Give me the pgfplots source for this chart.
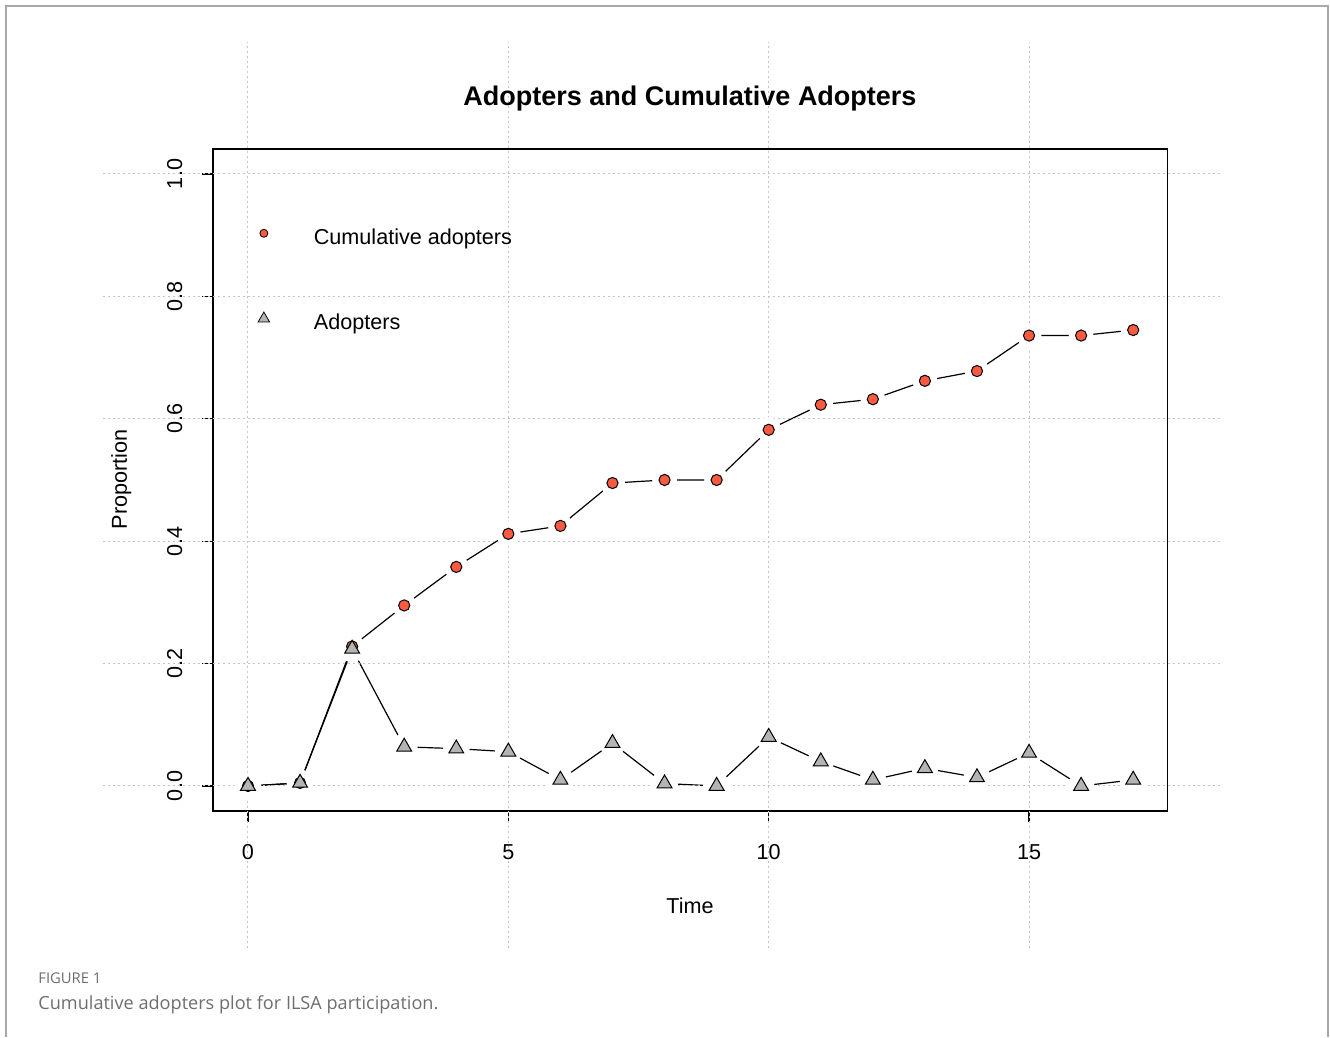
\documentclass[border=0pt]{standalone}
\usepackage{pgfplots}
\usepackage{pgfplotstable}
\pgfplotsset{compat=1.18}
\usepackage{fontspec}
\setmainfont{Liberation Sans}
\newfontfamily\capfont{Open Sans}
\definecolor{tomatoc}{HTML}{FA5B40}
\definecolor{trigray}{HTML}{B4B4B4}
\definecolor{gridc}{HTML}{C4C4C4}
\definecolor{framec}{HTML}{A8A8A8}
\definecolor{capc}{HTML}{6E6E6E}

\pgfplotstableread{
t cum
0 0.000
1 0.005
2 0.228
3 0.295
4 0.358
5 0.412
6 0.425
7 0.495
8 0.500
9 0.500
10 0.582
11 0.623
12 0.632
13 0.662
14 0.678
15 0.736
16 0.736
17 0.745
}\cumtable

\pgfplotstableread{
t adopt
0 0.000
1 0.005
2 0.224
3 0.064
4 0.061
5 0.056
6 0.010
7 0.070
8 0.004
9 0.000
10 0.080
11 0.040
12 0.010
13 0.029
14 0.014
15 0.054
16 0.000
17 0.010
}\adopttable

\pgfplotsset{
  mylegimg/.style={legend image code/.code={\path[draw=none,fill=none] (-4pt,-6pt) rectangle (21.5pt,7pt); \draw[##1] plot coordinates {(-1.5pt,2.5pt)};}}
}

\begin{document}
\begin{tikzpicture}
\fill[white] (-124pt,-125.5pt) rectangle (541pt,393pt);
\draw[framec, line width=1pt] (-121pt,-125.5pt) -- (-121pt,390pt) -- (540pt,390pt) -- (540pt,-125.5pt);
\begin{axis}[
  anchor=origin, at={(0pt,0pt)},
  x=26.035pt, y=306pt,
  xmin=-0.672, xmax=17.658, ymin=-0.0408, ymax=1.0408,
  clip=false,
  axis line style={black, line width=0.75pt},
  xtick={0,5,10,15}, ytick={0,0.2,0.4,0.6,0.8,1.0},
  xticklabels={0,5,10,15},
  yticklabels={0.0,0.2,0.4,0.6,0.8,1.0},
  xtick pos=left, ytick pos=left,
  tick align=outside,
  major tick length=5.5pt,
  every tick/.style={black, line width=0.6pt},
  tick label style={font=\fontsize{10.8}{13}\selectfont},
  /pgf/number format/assume math mode=true,
  xticklabel style={anchor=base, yshift=-19pt},
  yticklabel style={xshift=-10pt, rotate=90, anchor=base},
  legend style={draw=none, fill=none, at={(axis cs:0.072,0.925)}, anchor=north west,
    row sep=29pt, font=\fontsize{10.8}{13}\selectfont},
  legend cell align=left,
  mylegimg,
]
\addplot[black, line width=0.6pt, forget plot] table[x=t,y=cum]{\cumtable};
\addplot[black, line width=0.6pt, forget plot] table[x=t,y=adopt]{\adopttable};
\addplot[only marks, mark=*, mark size=6pt, mark options={draw=white, fill=white}, forget plot] table[x=t,y=cum]{\cumtable};
\addplot[only marks, mark=*, mark size=6.5pt, mark options={draw=white, fill=white}, forget plot] table[x=t,y=adopt]{\adopttable};
\pgfplotsinvokeforeach{0,5,10,15}{
  \draw[gridc, dash pattern=on 1pt off 1.5pt, line width=0.5pt] (axis cs:#1,-0.265) -- (axis cs:#1,1.216);
}
\pgfplotsinvokeforeach{0,0.2,0.4,0.6,0.8,1.0}{
  \draw[gridc, dash pattern=on 1pt off 1.5pt, line width=0.5pt] (axis cs:-2.78,#1) -- (axis cs:18.69,#1);
}
\addplot[only marks, mark=*, mark size=2.8pt, mark options={fill=tomatoc, draw=black, line width=0.5pt}, forget plot] table[x=t,y=cum]{\cumtable};
\addplot[only marks, mark=triangle*, mark size=4.3pt, mark options={fill=trigray, draw=black, line width=0.5pt}, forget plot] table[x=t,y=adopt]{\adopttable};
\addlegendimage{only marks, mark=*, mark size=2pt, mark options={fill=tomatoc, draw=black, line width=0.4pt}}
\addlegendentry{Cumulative adopters}
\addlegendimage{only marks, mark=triangle*, mark size=3.3pt, mark options={fill=trigray, draw=black, line width=0.4pt}}
\addlegendentry{Adopters}
\end{axis}
\node[font=\bfseries\fontsize{13.5}{16}\selectfont, anchor=base] at (221pt,340pt) {Adopters and Cumulative Adopters};
\node[font=\fontsize{10.8}{13}\selectfont, anchor=base] at (221pt,-64pt) {Time};
\node[font=\fontsize{10.8}{13}\selectfont, rotate=90, anchor=base] at (-60.5pt,153.25pt) {Proportion};
\node[anchor=base west, inner sep=0pt, text=capc] at (-105pt,-98.75pt) {\resizebox{31.5pt}{!}{\capfont FIGURE 1}};
\node[anchor=base west, inner sep=0pt, text=capc] at (-105pt,-112pt) {\resizebox{200pt}{!}{\capfont Cumulative adopters plot for ILSA participation.}};
\end{tikzpicture}
\end{document}
